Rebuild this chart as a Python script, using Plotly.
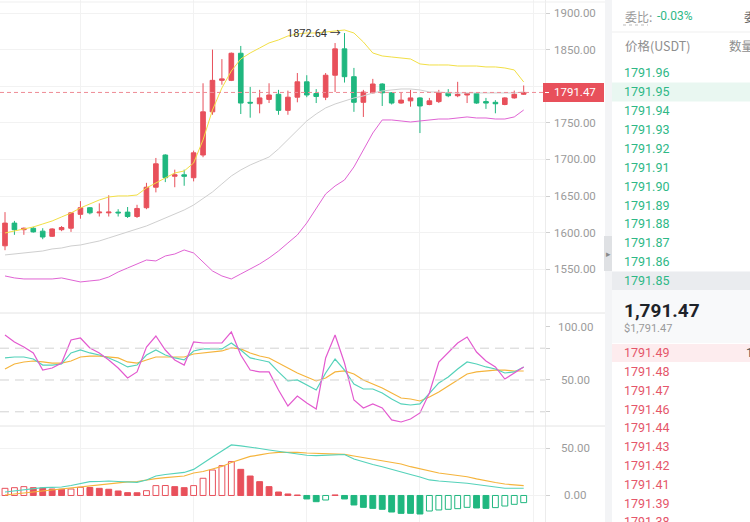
import plotly.graph_objects as go

W, H = 750, 522

# ---------------- data ----------------
open_ = [1582, 1613, 1604, 1606, 1602, 1595, 1604, 1606, 1625, 1634, 1627, 1627, 1628, 1628,
         1622, 1634, 1662, 1706, 1677, 1679, 1675, 1706, 1765, 1808, 1808, 1845, 1778, 1776,
         1782, 1789, 1767, 1785, 1806, 1790, 1785, 1815, 1851, 1813, 1778, 1791, 1803, 1791,
         1777, 1780, 1784, 1775, 1779, 1791, 1787, 1788, 1790, 1779, 1778, 1775, 1784, 1789]
high = [1628, 1616, 1607, 1608, 1606, 1606, 1609, 1628, 1643, 1635, 1640, 1651, 1632, 1635,
        1638, 1668, 1702, 1707, 1686, 1686, 1712, 1804, 1850, 1837, 1846, 1855, 1799, 1795,
        1804, 1795, 1794, 1818, 1815, 1796, 1818, 1859, 1872.64, 1825, 1795, 1810, 1804, 1792,
        1792, 1795, 1785, 1784, 1795, 1796, 1806, 1791, 1791, 1784, 1781, 1785, 1794, 1801]
low = [1576, 1597, 1597, 1600, 1591, 1594, 1602, 1601, 1619, 1625, 1622, 1622, 1622, 1620,
       1620, 1632, 1655, 1669, 1662, 1664, 1670, 1703, 1761, 1802, 1807, 1762, 1757, 1763,
       1777, 1761, 1761, 1778, 1785, 1777, 1781, 1792, 1805, 1765, 1758, 1790, 1773, 1775,
       1776, 1772, 1736, 1774, 1777, 1785, 1785, 1777, 1776, 1769, 1763, 1774, 1783, 1788]
close = [1613, 1604, 1606, 1601, 1594, 1605, 1607, 1627, 1634, 1627, 1628, 1628, 1627, 1622,
         1633, 1662, 1694, 1675, 1679, 1677, 1709, 1765, 1808, 1810, 1845, 1777, 1777, 1784,
         1788, 1767, 1785, 1806, 1788, 1786, 1815, 1851, 1813, 1778, 1792, 1803, 1791, 1777,
         1781, 1784, 1773, 1780, 1791, 1787, 1789, 1790, 1777, 1777, 1776, 1784, 1789, 1791.47]

boll_up = [1599.5, 1602.2, 1605.0, 1607.7, 1611.8, 1615.9, 1621.4, 1626.8, 1633.7, 1639.1,
           1644.6, 1648.7, 1650.1, 1650.1, 1651.4, 1661.0, 1667.8, 1674.7, 1681.5, 1684.2,
           1695.1, 1726.6, 1767.5, 1797.6, 1820.8, 1837.2, 1845.4, 1852.2, 1859.1, 1863.2,
           1868.6, 1871.4, 1872.7, 1872.7, 1874.1, 1875.5, 1876.8, 1872.7, 1860.4, 1845.4,
           1841.3, 1839.9, 1838.6, 1837.2, 1830.4, 1829.0, 1829.0, 1829.0, 1827.6, 1827.6,
           1827.6, 1826.3, 1826.3, 1824.9, 1822.2, 1805.8]
boll_mid = [1569.5, 1570.8, 1572.2, 1573.6, 1574.9, 1577.7, 1579.0, 1581.8, 1583.1, 1585.9,
            1588.6, 1592.7, 1596.8, 1600.9, 1605.0, 1609.1, 1614.5, 1620.0, 1625.5, 1630.9,
            1637.7, 1646.0, 1655.5, 1666.5, 1677.4, 1685.6, 1692.4, 1697.9, 1703.3, 1714.3,
            1726.6, 1740.2, 1752.5, 1762.1, 1770.3, 1775.7, 1779.8, 1783.9, 1786.7, 1790.8,
            1793.5, 1794.9, 1796.2, 1796.2, 1794.9, 1792.1, 1792.1, 1790.8, 1790.8, 1790.8,
            1790.8, 1790.8, 1790.8, 1790.8, 1790.8, 1792.1]
boll_dn = [1540.8, 1538.1, 1536.7, 1536.7, 1536.7, 1536.7, 1538.1, 1535.3, 1532.6, 1534.0,
           1535.3, 1539.4, 1546.2, 1551.7, 1557.2, 1562.6, 1561.3, 1568.1, 1570.8, 1576.3,
           1572.2, 1559.9, 1547.6, 1540.8, 1536.7, 1543.5, 1550.3, 1557.2, 1565.4, 1574.9,
           1585.9, 1596.8, 1613.2, 1632.3, 1652.8, 1663.7, 1671.9, 1689.7, 1712.9, 1736.1,
           1753.9, 1753.9, 1752.5, 1751.1, 1752.5, 1753.9, 1755.2, 1755.2, 1756.6, 1758.0,
           1756.6, 1756.6, 1755.2, 1755.2, 1758.0, 1767.5]

kdj_k = [70.8, 71.7, 71.7, 69.8, 64.1, 64.1, 65.1, 75.5, 78.3, 75.5, 73.6, 70.8, 67.0, 62.3,
         64.1, 73.6, 78.3, 73.6, 70.8, 68.9, 77.4, 79.3, 79.3, 79.3, 84.9, 78.3, 70.8, 68.9,
         67.0, 57.6, 49.1, 50.0, 45.3, 40.6, 56.6, 69.8, 59.4, 46.2, 41.5, 41.5, 37.7, 32.1,
         27.4, 26.4, 27.4, 37.7, 47.2, 52.8, 60.4, 67.0, 65.1, 62.3, 60.4, 56.6, 57.6, 62.3]
kdj_d = [60.4, 65.1, 67.0, 67.9, 67.0, 66.0, 66.0, 67.9, 71.7, 72.6, 72.6, 71.7, 70.8, 67.0,
         66.0, 68.9, 71.7, 71.7, 71.7, 71.7, 74.5, 75.5, 76.4, 77.4, 80.2, 79.3, 75.5, 72.6,
         70.8, 66.0, 61.3, 56.6, 52.8, 49.1, 51.9, 57.6, 58.5, 55.7, 50.0, 46.2, 42.5, 37.7,
         33.0, 32.1, 30.2, 34.0, 38.7, 44.4, 50.0, 55.7, 57.6, 58.5, 59.4, 59.4, 58.5, 58.5]
kdj_j = [92.5, 85.9, 81.1, 75.5, 59.4, 61.3, 66.0, 87.7, 89.6, 80.2, 75.5, 68.9, 61.3, 51.9,
         57.6, 81.1, 91.5, 78.3, 68.9, 64.1, 85.9, 84.9, 84.9, 84.9, 95.3, 73.6, 59.4, 57.6,
         57.6, 40.6, 25.5, 34.9, 28.3, 22.7, 70.8, 92.5, 66.0, 31.1, 23.6, 27.4, 23.6, 12.3,
         10.4, 13.2, 18.9, 37.7, 67.0, 76.4, 84.9, 90.6, 76.4, 67.9, 62.3, 50.9, 56.6, 62.3]

macd_dif = [3.7, 4.8, 6.4, 7.7, 8.3, 8.7, 9.0, 10.6, 12.8, 14.7, 14.9, 15.4, 14.9, 14.4,
            14.0, 16.5, 20.7, 22.3, 23.4, 24.5, 27.7, 34.6, 41.0, 47.3, 53.7, 52.7, 51.6, 50.0,
            48.4, 46.8, 45.2, 44.2, 42.8, 42.3, 42.6, 43.1, 43.6, 38.8, 35.6, 33.0, 30.6, 27.7,
            24.5, 22.3, 19.7, 16.5, 15.4, 14.7, 13.8, 13.0, 11.7, 10.1, 9.0, 7.7, 7.7, 7.7]
macd_dea = [0.5, 1.6, 2.7, 4.0, 5.1, 6.4, 7.2, 8.0, 9.0, 10.1, 11.2, 12.2, 13.3, 14.4,
            14.9, 16.5, 17.9, 18.9, 19.9, 20.7, 23.9, 25.5, 28.2, 30.9, 35.1, 38.3, 41.5, 43.1,
            44.9, 45.8, 46.0, 45.8, 45.2, 44.9, 44.5, 44.2, 43.8, 42.0, 40.4, 38.6, 36.7, 35.6,
            33.5, 30.6, 28.2, 26.1, 23.9, 22.6, 21.3, 19.9, 17.6, 15.4, 13.8, 12.2, 11.2, 10.4]
macd_hist = [7.6, 8.3, 9.4, 8.3, 8.0, 6.9, 6.6, 6.9, 8.7, 8.5, 7.6, 6.6, 4.8, 3.0,
             2.9, 5.1, 10.5, 10.6, 9.4, 8.3, 10.5, 18.3, 27.1, 31.7, 36.0, 27.8, 20.7, 14.7,
             9.4, 3.7, 1.6, 0.5, -3.7, -6.6, -4.8, 0.6, -3.7, -10.1, -12.6, -13.7, -14.7, -17.6,
             -19.0, -19.0, -19.7, -16.5, -15.4, -14.7, -14.0, -12.6, -13.3, -13.7, -12.9, -11.2,
             -9.4, -7.6]

price_ticks = [1550, 1600, 1650, 1700, 1750, 1800, 1850, 1900]
price_labels = [1550, 1600, 1650, 1700, 1750, 1850, 1900]
kdj_ticks = [20, 50, 80, 100]
kdj_labels = [50, 100]
kdj_levels = [20, 50, 80]
macd_ticks = [0, 50]
last_price = 1791.47
peak_price = 1872.64
peak_index = 36

ratio_text = "-0.03%"
ask_prices = ["1791.96", "1791.95", "1791.94", "1791.93", "1791.92", "1791.91",
              "1791.90", "1791.89", "1791.88", "1791.87", "1791.86", "1791.85"]
bid_prices = ["1791.49", "1791.48", "1791.47", "1791.46", "1791.44", "1791.43",
              "1791.42", "1791.41", "1791.39", "1791.38"]

# ---------------- style ----------------
RED = "#E8505B"
GREEN = "#1FB77F"
TEXT_GREEN = "#2EB886"
TEXT_RED = "#E5566A"
AX_GREY = "#9b9b9b"
FONT = "Roboto, Noto Sans CJK SC, sans-serif"

def px(xp):
    return xp / W

def py(yp):
    return 1 - yp / H

x = list(range(len(close)))
XR = [-0.53, 57.26]
XDOM = [0, px(545)]
D_PRICE = [py(313), 1]
D_KDJ = [py(426), py(313)]
D_MACD = [0, py(426)]

fig = go.Figure()

# price panel
fig.add_trace(go.Scatter(x=x, y=boll_mid, mode="lines", line=dict(color="#cfcfcf", width=1),
                         xaxis="x", yaxis="y", hoverinfo="skip"))
fig.add_trace(go.Scatter(x=x, y=boll_up, mode="lines", line=dict(color="#F2DF45", width=1),
                         xaxis="x", yaxis="y", hoverinfo="skip"))
fig.add_trace(go.Scatter(x=x, y=boll_dn, mode="lines", line=dict(color="#E064D4", width=1),
                         xaxis="x", yaxis="y", hoverinfo="skip"))
fig.add_trace(go.Candlestick(
    x=x, open=open_, high=high, low=low, close=close, xaxis="x", yaxis="y",
    increasing=dict(line=dict(color=RED, width=1), fillcolor=RED),
    decreasing=dict(line=dict(color=GREEN, width=1), fillcolor=GREEN),
    whiskerwidth=0))

# KDJ panel
fig.add_trace(go.Scatter(x=x, y=kdj_d, mode="lines", line=dict(color="#F5B43C", width=1.2),
                         xaxis="x2", yaxis="y2"))
fig.add_trace(go.Scatter(x=x, y=kdj_k, mode="lines", line=dict(color="#55D2BA", width=1.2),
                         xaxis="x2", yaxis="y2"))
fig.add_trace(go.Scatter(x=x, y=kdj_j, mode="lines", line=dict(color="#E35ACF", width=1.2),
                         xaxis="x2", yaxis="y2"))

# MACD panel
bar_line, bar_fill = [], []
for i, v in enumerate(macd_hist):
    c = RED if v >= 0 else GREEN
    hollow = i == 0 or v > macd_hist[i - 1]
    bar_line.append(c)
    bar_fill.append("white" if hollow else c)
fig.add_trace(go.Bar(x=x, y=macd_hist, width=0.62, xaxis="x3", yaxis="y3",
                     marker=dict(color=bar_fill, line=dict(color=bar_line, width=1))))
fig.add_trace(go.Scatter(x=x, y=macd_dea, mode="lines", line=dict(color="#F5B43C", width=1.2),
                         xaxis="x3", yaxis="y3"))
fig.add_trace(go.Scatter(x=x, y=macd_dif, mode="lines", line=dict(color="#55D2BA", width=1.2),
                         xaxis="x3", yaxis="y3"))

xcommon = dict(range=XR, domain=XDOM, showticklabels=False, tickvals=[8, 20, 32, 44, 56],
               showgrid=True, gridcolor="#f2f2f2", zeroline=False, ticks="", fixedrange=True)
ycommon = dict(side="right", showticklabels=False, ticks="outside", ticklen=4,
               tickcolor="#d0d0d0", showgrid=True, gridcolor="#f2f2f2", zeroline=False,
               showline=True, linecolor="#ececec", linewidth=1)

fig.update_layout(
    width=W, height=H, margin=dict(l=0, r=0, t=0, b=0),
    paper_bgcolor="white", plot_bgcolor="white", showlegend=False,
    font=dict(family=FONT, color=AX_GREY, size=12),
    xaxis=dict(anchor="y", rangeslider=dict(visible=False), **xcommon),
    xaxis2=dict(anchor="y2", matches="x", **xcommon),
    xaxis3=dict(anchor="y3", matches="x", **xcommon),
    yaxis=dict(domain=D_PRICE, range=[1490.2, 1917.76], tickvals=price_ticks, anchor="x",
               **ycommon),
    yaxis2=dict(domain=D_KDJ, range=[6.6, 113.2], tickvals=kdj_ticks, anchor="x2", **ycommon),
    yaxis3=dict(domain=D_MACD, range=[-28.2, 73.9], tickvals=macd_ticks, anchor="x3",
                **ycommon),
)
fig.update_yaxes(showgrid=False, selector=dict(anchor="x2"))

shapes = []
# KDJ dashed levels
for lv in kdj_levels:
    shapes.append(dict(type="line", xref="paper", yref="y2", x0=0, x1=px(545), y0=lv, y1=lv,
                       line=dict(color="#d2d2d2", width=1, dash="9px,6px")))
# current price dashed line
shapes.append(dict(type="line", xref="paper", yref="y", x0=0, x1=px(545), y0=last_price,
                   y1=last_price, line=dict(color="#EE8C95", width=1, dash="4px,3px")))
# panel separators
for yy in (313, 426):
    shapes.append(dict(type="line", xref="paper", yref="paper", x0=0, x1=px(605),
                       y0=py(yy), y1=py(yy), line=dict(color="#e4e4e4", width=1)))
shapes.append(dict(type="line", xref="paper", yref="paper", x0=0, x1=px(605),
                   y0=py(2), y1=py(2), line=dict(color="#efefef", width=1)))
# price tag
shapes.append(dict(type="rect", xref="paper", yref="paper", x0=px(543), x1=px(604),
                   y0=py(102), y1=py(83), fillcolor=RED, line=dict(width=0), layer="above"))
shapes.append(dict(type="line", xref="paper", yref="paper", x0=px(545), x1=px(549),
                   y0=py(92.5), y1=py(92.5), line=dict(color="white", width=1), layer="above"))
# divider strip + handle
shapes.append(dict(type="rect", xref="paper", yref="paper", x0=px(605), x1=px(612),
                   y0=0, y1=1, fillcolor="#f3f4f6", line=dict(width=0), layer="above"))
shapes.append(dict(type="rect", xref="paper", yref="paper", x0=px(604), x1=px(612),
                   y0=py(271), y1=py(236), fillcolor="#dfe1e4", line=dict(width=0),
                   layer="above"))
# order book decoration
shapes.append(dict(type="line", xref="paper", yref="paper", x0=px(612), x1=1,
                   y0=py(32), y1=py(32), line=dict(color="#efefef", width=1)))
shapes.append(dict(type="line", xref="paper", yref="paper", x0=px(623), x1=px(648),
                   y0=py(25), y1=py(25), line=dict(color="#bbbbbb", width=1, dash="dot")))
shapes.append(dict(type="rect", xref="paper", yref="paper", x0=px(612), x1=1,
                   y0=py(101.5), y1=py(82.5), fillcolor="#e9f7f1", line=dict(width=0),
                   layer="below"))
shapes.append(dict(type="rect", xref="paper", yref="paper", x0=px(612), x1=1,
                   y0=py(290), y1=py(271.5), fillcolor="#eaecef", line=dict(width=0),
                   layer="below"))
shapes.append(dict(type="rect", xref="paper", yref="paper", x0=px(612), x1=1,
                   y0=py(343), y1=py(290), fillcolor="#f8f9fa", line=dict(width=0),
                   layer="below"))
shapes.append(dict(type="rect", xref="paper", yref="paper", x0=px(612), x1=1,
                   y0=py(362), y1=py(344), fillcolor="#fdecee", line=dict(width=0),
                   layer="below"))

ann = []

def text(xp, yp, s, color, size, anchor="left", bold=False, family=FONT):
    ann.append(dict(xref="paper", yref="paper", x=px(xp), y=py(yp), text=s, showarrow=False,
                    xanchor=anchor, yanchor="middle",
                    font=dict(color=color, size=size, family=family,
                              weight="bold" if bold else "normal")))

# axis labels (centered like the reference)
for v in price_labels:
    ann.append(dict(xref="paper", yref="y", x=px(575), y=v, text=f"{v:.2f}", showarrow=False,
                    xanchor="center", yanchor="middle", font=dict(color=AX_GREY, size=11.5)))
for v in kdj_labels:
    ann.append(dict(xref="paper", yref="y2", x=px(575), y=v, text=f"{v:.2f}", showarrow=False,
                    xanchor="center", yanchor="middle", font=dict(color=AX_GREY, size=11.5)))
for v in macd_ticks:
    ann.append(dict(xref="paper", yref="y3", x=px(575), y=v, text=f"{v:.2f}", showarrow=False,
                    xanchor="center", yanchor="middle", font=dict(color=AX_GREY, size=11.5)))
ann.append(dict(xref="paper", yref="y", x=px(575), y=last_price, text=f"{last_price:.2f}",
                showarrow=False, xanchor="center", yanchor="middle",
                font=dict(color="white", size=11.5)))
# peak marker
ann.append(dict(xref="x", yref="y", x=peak_index, y=peak_price, text=f"{peak_price:.2f} →",
                showarrow=False, xanchor="right", yanchor="middle", xshift=-2,
                font=dict(color="#333333", size=11)))
# handle arrow
text(608, 253.5, "▸", "#8a8a8a", 9, anchor="center")

# order book
CJK = "Noto Sans CJK SC, sans-serif"
text(623, 16, "委比:", "#999999", 12, family=CJK)
text(655, 16, ratio_text, TEXT_GREEN, 12)
text(742, 16, "委", "#666666", 12, family=CJK)
text(623, 45, "价格(USDT)", "#8e8e8e", 12.5, family=CJK)
text(727, 45, "数量", "#8e8e8e", 12.5, family=CJK)
for k, p in enumerate(ask_prices):
    text(622, 72.7 + 18.9 * k, p, TEXT_GREEN, 12.5)
text(622, 310, f"{last_price:,.2f}", "#1e2329", 19, bold=True)
text(622, 328, f"${last_price:,.2f}", "#9a9a9a", 11)
for k, p in enumerate(bid_prices):
    text(622, 352.7 + 18.8 * k, p, TEXT_RED, 12.5)
text(744, 352.7, "1", "#555555", 12.5)

fig.update_layout(shapes=shapes, annotations=ann)
fig.write_html("out.html", config={"displayModeBar": False, "staticPlot": True},
               post_script="document.body.style.margin='0';document.body.style.overflow='hidden';")
